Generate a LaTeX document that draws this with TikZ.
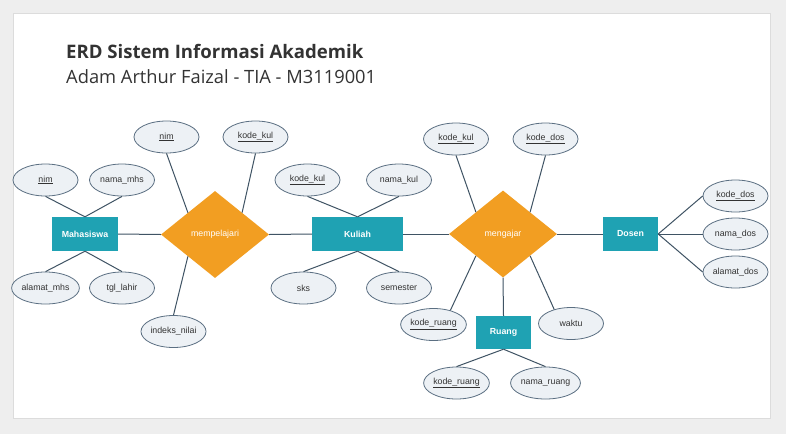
\documentclass[tikz,border=0pt]{standalone}
\usepackage{fontspec}
\setmainfont{Liberation Sans}
\newfontfamily\titlefont{Open Sans}
\usepackage{xcolor}
\usetikzlibrary{shapes.geometric}

\definecolor{pagebg}{HTML}{EEEEEE}
\definecolor{cardline}{HTML}{DCDCDC}
\definecolor{titlecol}{HTML}{333333}
\definecolor{entcol}{HTML}{1FA2B3}
\definecolor{relcol}{HTML}{F29E22}
\definecolor{attfill}{HTML}{EDF1F5}
\definecolor{attline}{HTML}{5B6F82}
\definecolor{linkcol}{HTML}{3F5364}

\begin{document}
\begin{tikzpicture}[x=1pt, y=-1pt,
    entity/.style={rectangle, fill=entcol, text=white, minimum height=34pt, inner sep=0pt, font=\fontsize{8.8}{10}\selectfont\bfseries},
    relation/.style={diamond, fill=relcol, text=white, minimum width=108pt, minimum height=87pt, inner sep=0pt, font=\fontsize{8.8}{10}\selectfont},
    attr/.style={ellipse, draw=attline, fill=attfill, line width=0.8pt, minimum width=65pt, minimum height=32pt, inner sep=0pt, text=titlecol, font=\fontsize{8.8}{10}\selectfont},
    link/.style={draw=linkcol, line width=1pt}]
    % Page and card
    \useasboundingbox (0,0) rectangle (786,434);
    \fill[pagebg] (0,0) rectangle (786,434);
    \draw[cardline, fill=white] (13,13) rectangle (770,418);

    % Title
    \node[anchor=base west, inner sep=0pt, text=titlecol, font=\titlefont\bfseries\fontsize{18.6}{22}\selectfont] (title) at (66,58) {ERD Sistem Informasi Akademik};
    \node[anchor=base west, inner sep=0pt, text=titlecol, font=\titlefont\fontsize{18.3}{22}\selectfont] (subtitle) at (66,83) {Adam Arthur Faizal - TIA - M3119001};

    % Entities
    \node[entity, minimum width=66pt] (mhs) at (85,234) {Mahasiswa};
    \node[entity, minimum width=91pt] (kul) at (357.5,234) {Kuliah};
    \node[entity, minimum width=55pt] (dos) at (630.5,234) {Dosen};
    \node[entity, minimum width=55pt, minimum height=33pt] (rng) at (503.5,332.5) {Ruang};

    % Relations
    \node[relation] (mpl) at (215,234.5) {mempelajari};
    \node[relation] (mgj) at (503,234) {mengajar};

    % Attributes of Mahasiswa
    \node[attr] (mhsnim) at (45.5,180) {\underline{nim}};
    \node[attr] (mhsnama) at (122,180) {nama\_mhs};
    \node[attr] (mhsalamat) at (45.5,288) {alamat\_mhs};
    \node[attr] (mhslahir) at (122,288) {tgl\_lahir};

    % Attributes of mempelajari
    \node[attr] (mplnim) at (166.5,137) {\underline{nim}};
    \node[attr] (mplkul) at (255.5,137) {\underline{kode\_kul}};
    \node[attr] (mplnilai) at (173.5,331.5) {indeks\_nilai};

    % Attributes of Kuliah
    \node[attr] (kulkode) at (307.5,180) {\underline{kode\_kul}};
    \node[attr] (kulnama) at (399,180) {nama\_kul};
    \node[attr] (kulsks) at (303.5,288) {sks};
    \node[attr] (kulsem) at (399,288) {semester};

    % Attributes of mengajar
    \node[attr] (mgjkul) at (456,139) {\underline{kode\_kul}};
    \node[attr] (mgjdos) at (545.5,139) {\underline{kode\_dos}};
    \node[attr] (mgjruang) at (433.5,324.5) {\underline{kode\_ruang}};
    \node[attr] (mgjwaktu) at (571,323.5) {waktu};

    % Attributes of Dosen
    \node[attr] (doskode) at (735.5,196) {\underline{kode\_dos}};
    \node[attr] (dosnama) at (735.5,234) {nama\_dos};
    \node[attr] (dosalamat) at (735.5,272) {alamat\_dos};

    % Attributes of Ruang
    \node[attr] (rngkode) at (456.5,383) {\underline{kode\_ruang}};
    \node[attr] (rngnama) at (545.5,383) {nama\_ruang};

    % Relationship lines
    \draw[link] (mhs.east) -- (mpl.west);
    \draw[link] (mpl.east) -- (kul.west);
    \draw[link] (kul.east) -- (mgj.west);
    \draw[link] (mgj.east) -- (dos.west);
    \draw[link] (mgj.south) -- (rng.north);

    % Attribute lines
    \draw[link] (mhs.north) -- (mhsnim.south);
    \draw[link] (mhs.north) -- (mhsnama.south);
    \draw[link] (mhs.south) -- (mhsalamat.north);
    \draw[link] (mhs.south) -- (mhslahir.north);
    \draw[link] (mpl.north west) -- (mplnim.south);
    \draw[link] (mpl.north east) -- (mplkul.south);
    \draw[link] (mpl.south west) -- (mplnilai.north);
    \draw[link] (kul.north) -- (kulkode.south);
    \draw[link] (kul.north) -- (kulnama.south);
    \draw[link] (kul.south) -- (kulsks.north);
    \draw[link] (kul.south) -- (kulsem.north);
    \draw[link] (mgj.north west) -- (mgjkul.south);
    \draw[link] (mgj.north east) -- (mgjdos.south);
    \draw[link] (mgj.south west) -- (mgjruang.40);
    \draw[link] (mgj.south east) -- (mgjwaktu.140);
    \foreach \a in {doskode,dosnama,dosalamat}
        \draw[link] (dos.east) -- (\a.west);
    \draw[link] (rng.south) -- (rngkode.north);
    \draw[link] (rng.south) -- (rngnama.north);
\end{tikzpicture}
\end{document}
